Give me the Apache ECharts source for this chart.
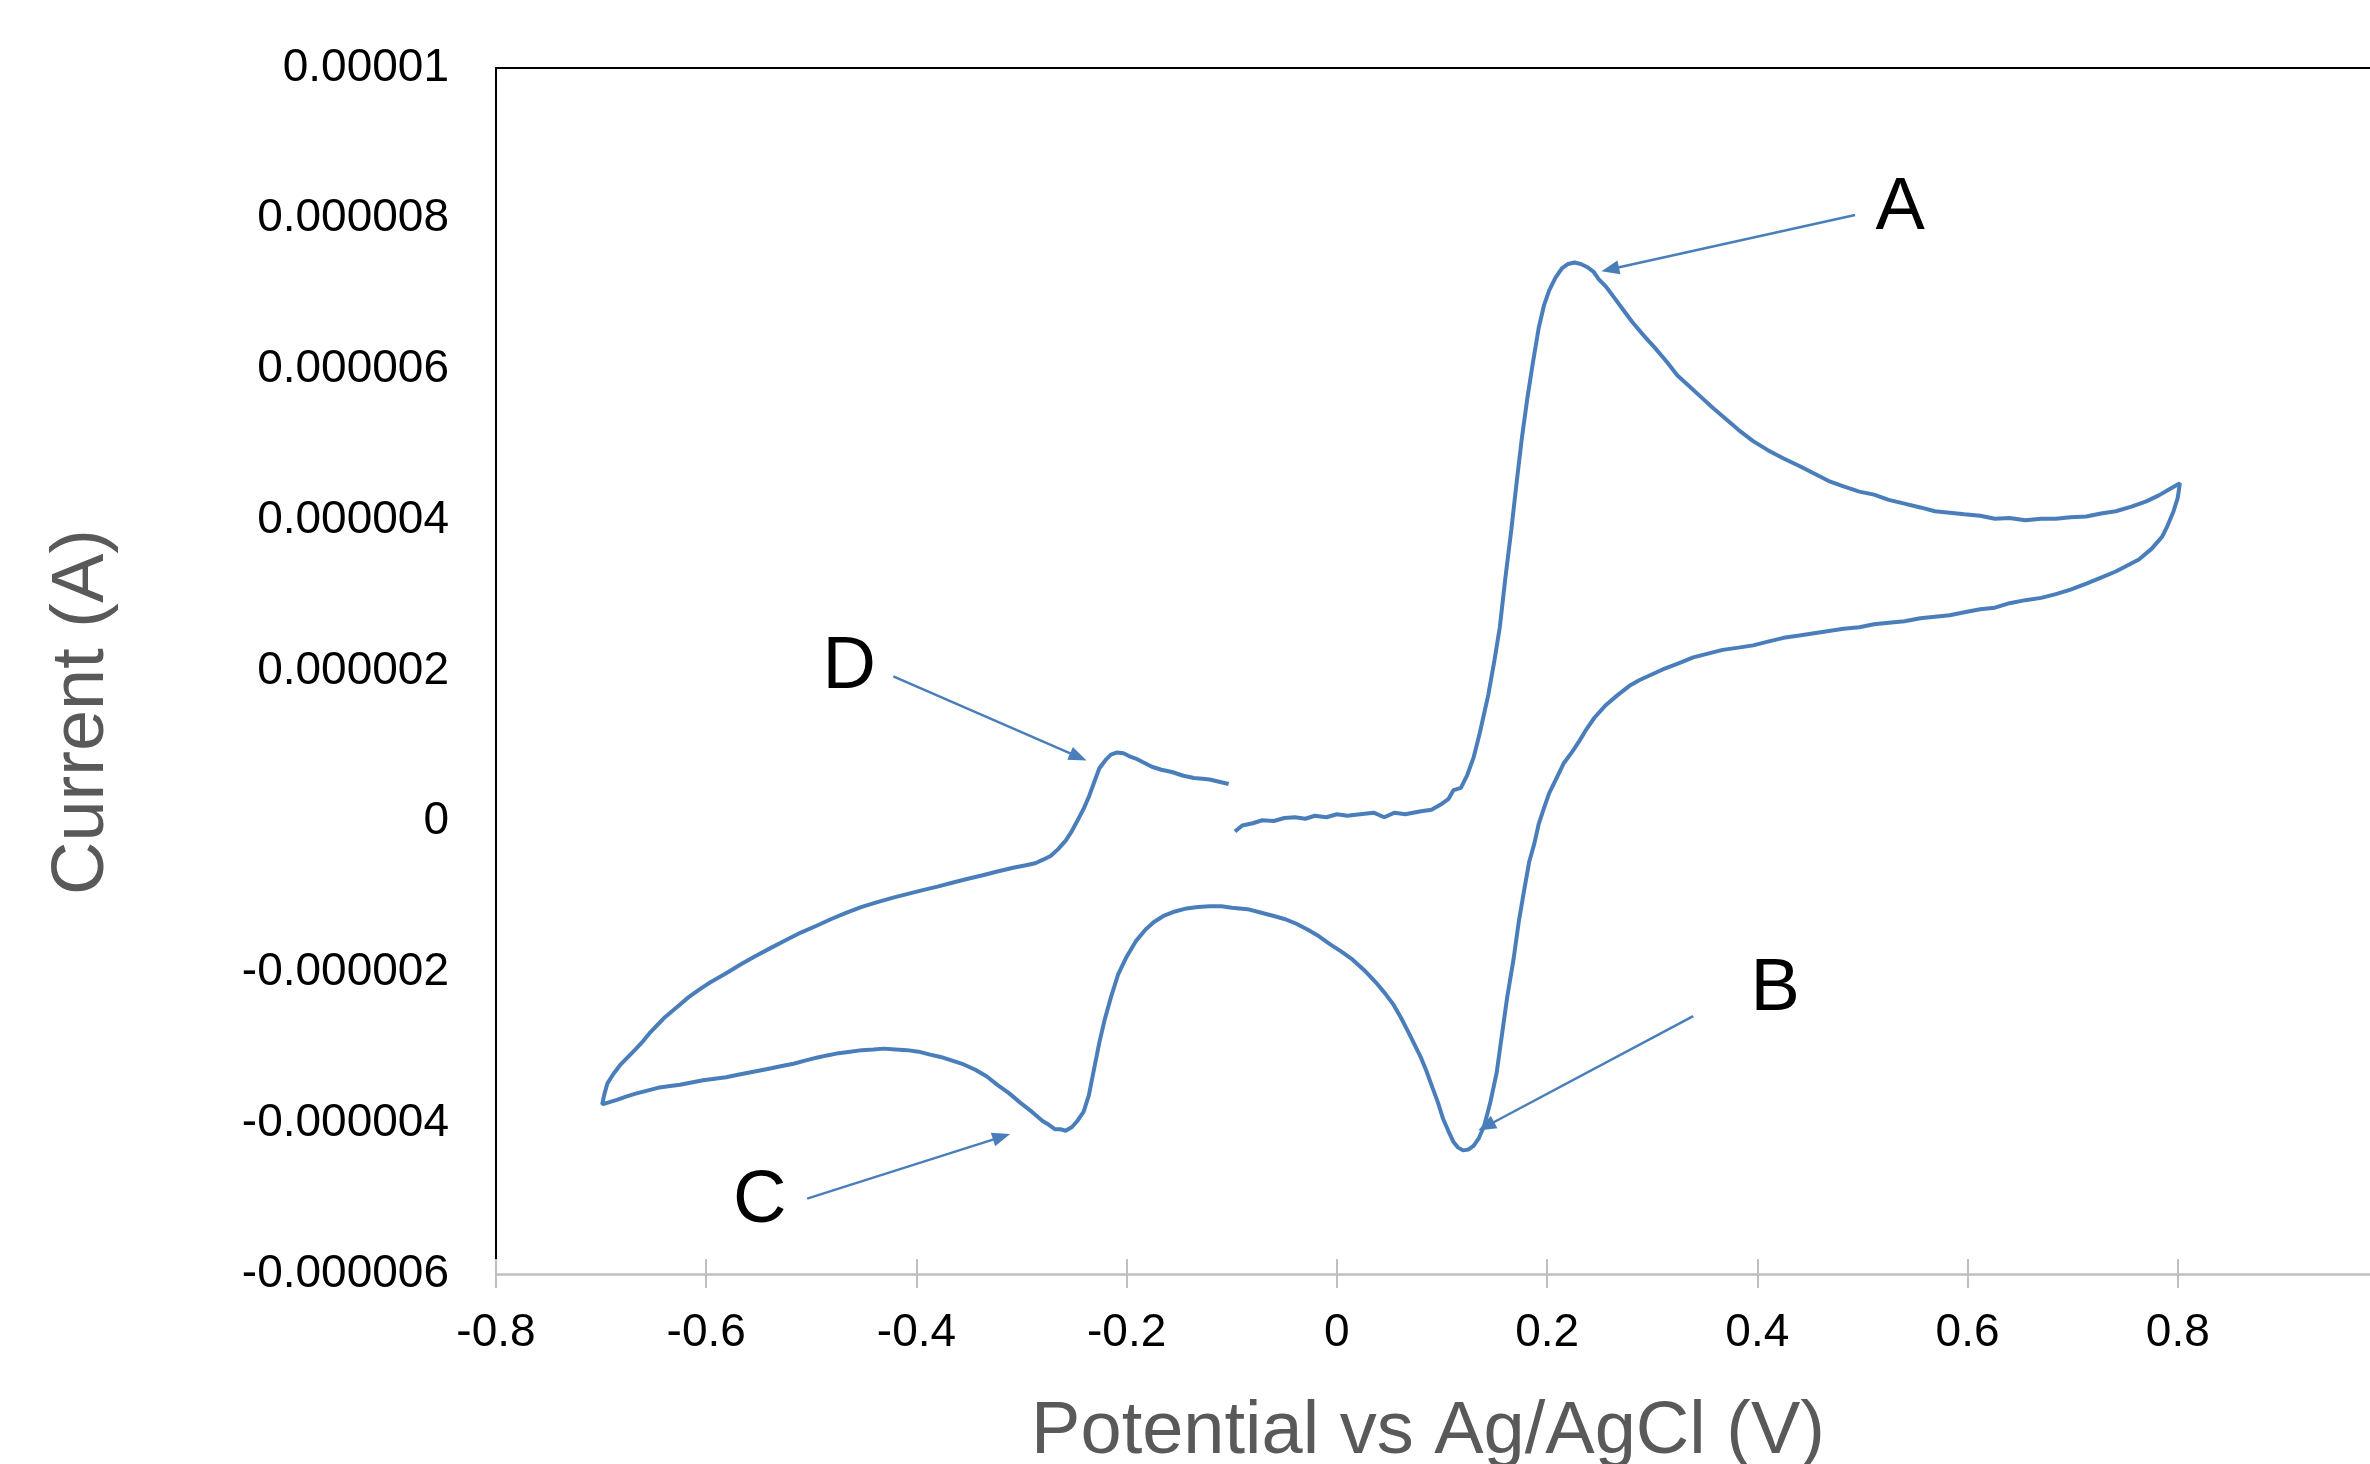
<!DOCTYPE html>
<html>
<head>
<meta charset="utf-8">
<script src="https://cdn.jsdelivr.net/npm/echarts@6/dist/echarts.min.js"></script>
<style>
  html, body { margin: 0; padding: 0; background: #fff; }
  #chart { width: 2370px; height: 1464px; }
</style>
</head>
<body>
<div id="chart"></div>
<script>
// CV trace in scan order. potential in V, current in µA
// first sweep: -0.1 V -> +0.8 V
const fwdE = [-0.097, -0.090, -0.080, -0.071, -0.060, -0.050, -0.040, -0.030, -0.021, -0.010, 0.000, 0.010, 0.022, 0.035, 0.045, 0.055, 0.065, 0.080, 0.090, 0.100, 0.106, 0.111, 0.118, 0.124, 0.130, 0.136, 0.144, 0.150, 0.155, 0.160, 0.166, 0.171, 0.176, 0.181, 0.186, 0.192, 0.197, 0.202, 0.208, 0.214, 0.220, 0.226, 0.232, 0.238, 0.244, 0.249, 0.256, 0.264, 0.272, 0.281, 0.292, 0.303, 0.314, 0.324, 0.335, 0.346, 0.357, 0.367, 0.382, 0.396, 0.410, 0.425, 0.440, 0.454, 0.468, 0.482, 0.497, 0.511, 0.525, 0.540, 0.555, 0.569, 0.583, 0.597, 0.612, 0.626, 0.640, 0.655, 0.670, 0.684, 0.698, 0.713, 0.727, 0.741, 0.756, 0.770, 0.782, 0.792, 0.802];
const fwdI = [-0.13, -0.05, -0.02, 0.02, 0.01, 0.05, 0.06, 0.04, 0.08, 0.06, 0.10, 0.08, 0.10, 0.12, 0.06, 0.12, 0.10, 0.14, 0.16, 0.24, 0.30, 0.42, 0.45, 0.62, 0.85, 1.18, 1.68, 2.15, 2.58, 3.20, 3.88, 4.50, 5.09, 5.60, 6.05, 6.55, 6.85, 7.05, 7.22, 7.34, 7.40, 7.42, 7.40, 7.36, 7.30, 7.20, 7.10, 6.95, 6.80, 6.63, 6.45, 6.28, 6.10, 5.92, 5.78, 5.64, 5.50, 5.38, 5.20, 5.05, 4.93, 4.82, 4.72, 4.62, 4.52, 4.45, 4.38, 4.34, 4.27, 4.22, 4.17, 4.12, 4.10, 4.08, 4.06, 4.02, 4.03, 4.00, 4.02, 4.02, 4.04, 4.05, 4.09, 4.12, 4.18, 4.25, 4.33, 4.41, 4.49];

// reverse sweep: +0.8 V -> -0.7 V
const revE = [0.800, 0.796, 0.790, 0.785, 0.775, 0.763, 0.752, 0.741, 0.727, 0.713, 0.698, 0.684, 0.670, 0.655, 0.640, 0.626, 0.612, 0.597, 0.583, 0.569, 0.555, 0.540, 0.525, 0.511, 0.497, 0.482, 0.468, 0.454, 0.440, 0.425, 0.410, 0.396, 0.382, 0.367, 0.353, 0.339, 0.325, 0.310, 0.299, 0.288, 0.278, 0.267, 0.256, 0.245, 0.238, 0.231, 0.224, 0.216, 0.209, 0.202, 0.197, 0.192, 0.188, 0.183, 0.178, 0.173, 0.168, 0.162, 0.157, 0.152, 0.146, 0.140, 0.135, 0.130, 0.125, 0.120, 0.115, 0.111, 0.106, 0.101, 0.096, 0.091, 0.085, 0.080, 0.074, 0.068, 0.061, 0.054, 0.046, 0.037, 0.026, 0.015, 0.004, -0.006, -0.017, -0.028, -0.039, -0.050, -0.060, -0.071, -0.085, -0.100, -0.110, -0.121, -0.132, -0.143, -0.154, -0.165, -0.174, -0.182, -0.191, -0.200, -0.208, -0.215, -0.221, -0.226, -0.231, -0.236, -0.241, -0.247, -0.252, -0.258, -0.263, -0.268, -0.274, -0.280, -0.290, -0.301, -0.312, -0.323, -0.333, -0.344, -0.355, -0.366, -0.377, -0.387, -0.398, -0.409, -0.420, -0.431, -0.441, -0.452, -0.463, -0.474, -0.485, -0.495, -0.506, -0.517, -0.528, -0.538, -0.549, -0.560, -0.571, -0.581, -0.592, -0.603, -0.614, -0.625, -0.636, -0.646, -0.657, -0.668, -0.677, -0.685, -0.692, -0.699];
const revI = [4.30, 4.12, 3.92, 3.78, 3.62, 3.48, 3.40, 3.32, 3.24, 3.16, 3.08, 3.02, 2.97, 2.94, 2.90, 2.84, 2.82, 2.78, 2.74, 2.72, 2.70, 2.66, 2.64, 2.62, 2.58, 2.56, 2.53, 2.50, 2.47, 2.44, 2.39, 2.34, 2.31, 2.28, 2.23, 2.18, 2.10, 2.02, 1.95, 1.88, 1.80, 1.68, 1.55, 1.38, 1.24, 1.08, 0.93, 0.78, 0.58, 0.38, 0.18, -0.03, -0.28, -0.53, -0.92, -1.33, -1.83, -2.33, -2.83, -3.33, -3.72, -4.04, -4.20, -4.30, -4.35, -4.36, -4.32, -4.25, -4.10, -3.94, -3.72, -3.53, -3.30, -3.13, -2.96, -2.79, -2.60, -2.43, -2.28, -2.13, -1.97, -1.83, -1.72, -1.63, -1.52, -1.43, -1.35, -1.29, -1.25, -1.21, -1.16, -1.14, -1.12, -1.12, -1.13, -1.15, -1.19, -1.25, -1.33, -1.43, -1.58, -1.79, -2.02, -2.33, -2.63, -2.93, -3.28, -3.63, -3.85, -3.97, -4.05, -4.10, -4.08, -4.08, -4.02, -3.97, -3.85, -3.73, -3.60, -3.49, -3.38, -3.29, -3.22, -3.17, -3.12, -3.09, -3.05, -3.03, -3.02, -3.01, -3.02, -3.03, -3.05, -3.07, -3.10, -3.13, -3.17, -3.21, -3.24, -3.27, -3.30, -3.33, -3.36, -3.39, -3.41, -3.43, -3.46, -3.49, -3.51, -3.53, -3.57, -3.61, -3.65, -3.69, -3.72, -3.75];

// return sweep: -0.7 V -> -0.1 V
const retE = [-0.697, -0.694, -0.688, -0.682, -0.675, -0.668, -0.660, -0.653, -0.646, -0.639, -0.628, -0.617, -0.606, -0.596, -0.581, -0.567, -0.553, -0.538, -0.524, -0.510, -0.495, -0.481, -0.467, -0.452, -0.438, -0.423, -0.409, -0.395, -0.380, -0.366, -0.352, -0.337, -0.323, -0.308, -0.297, -0.287, -0.279, -0.272, -0.265, -0.258, -0.252, -0.247, -0.241, -0.236, -0.231, -0.226, -0.220, -0.215, -0.209, -0.203, -0.196, -0.190, -0.183, -0.176, -0.167, -0.157, -0.146, -0.136, -0.128, -0.121, -0.112, -0.103];
const retI = [-3.62, -3.47, -3.34, -3.23, -3.13, -3.03, -2.91, -2.79, -2.69, -2.59, -2.46, -2.33, -2.22, -2.13, -2.01, -1.89, -1.78, -1.67, -1.57, -1.47, -1.38, -1.29, -1.21, -1.13, -1.07, -1.01, -0.96, -0.91, -0.86, -0.81, -0.76, -0.71, -0.66, -0.61, -0.58, -0.55, -0.50, -0.45, -0.36, -0.25, -0.12, 0.01, 0.17, 0.33, 0.52, 0.71, 0.82, 0.89, 0.92, 0.91, 0.86, 0.83, 0.78, 0.73, 0.69, 0.66, 0.61, 0.58, 0.57, 0.56, 0.53, 0.50];

// peak annotations: letter position, arrow tail and arrow head (V, µA)
const peakNames = ['A', 'B', 'C', 'D'];
const nameE = [0.536, 0.417, -0.549, -0.464];
const nameI = [8.13, -2.23, -5.04, 2.04];
const tailE = [0.493, 0.339, -0.504, -0.422];
const tailI = [8.05, -2.58, -5.00, 1.93];
const headE = [0.260, 0.142, -0.319, -0.246];
const headI = [7.33, -4.04, -4.18, 0.86];

const FONT = '"Liberation Sans", Arial, sans-serif';
const BLUE = '#4a7ebb';

const traceE = fwdE.concat(revE, retE);
const traceI = fwdI.concat(revI, retI);
const trace = traceE.map((e, i) => [e, traceI[i]]);

const arrows = peakNames.map((n, i) => [
  { coord: [tailE[i], tailI[i]], symbol: 'none' },
  { coord: [headE[i], headI[i]], symbol: 'triangle', symbolSize: [14, 18] }
]);
const letters = peakNames.map((n, i) => ({ name: n, coord: [nameE[i], nameI[i]] }));

const chart = echarts.init(document.getElementById('chart'));
const xBase = { type: 'value', min: -0.8, max: 1.0, interval: 0.2, splitLine: { show: false } };

chart.setOption({
  animation: false,
  backgroundColor: '#fff',
  // plot area runs past the right edge of the picture (x max 1.0 is cut off)
  grid: { left: 496, top: 68, width: 1892, height: 1206, outerBoundsMode: 'none', containLabel: false },
  xAxis: [
    Object.assign({}, xBase, {
      position: 'bottom',
      axisLine: { show: true, onZero: false, lineStyle: { color: '#bfbfbf', width: 2.5 } },
      axisTick: { show: true, length: 14, lineStyle: { color: '#bfbfbf', width: 2 } },
      axisLabel: {
        margin: 36, fontSize: 46, lineHeight: 46, color: '#000', fontFamily: FONT,
        formatter: v => String(Math.round(v * 10) / 10)
      }
    }),
    Object.assign({}, xBase, {
      position: 'bottom',
      axisLine: { show: false, onZero: false },
      axisTick: { show: true, inside: true, length: 15, lineStyle: { color: '#bfbfbf', width: 2 } },
      axisLabel: { show: false }
    }),
    Object.assign({}, xBase, {
      position: 'top',
      axisLine: { show: true, onZero: false, lineStyle: { color: '#000', width: 2 } },
      axisTick: { show: false },
      axisLabel: { show: false }
    })
  ],
  yAxis: {
    type: 'value', min: -6, max: 10, interval: 2,
    axisLine: { show: true, onZero: false, lineStyle: { color: '#000', width: 2 } },
    axisTick: { show: false },
    splitLine: { show: false },
    axisLabel: {
      margin: 47, fontSize: 46, color: '#000', fontFamily: FONT,
      formatter: v => v === 0 ? '0' : (v * 1e-6).toFixed(6).replace(/0+$/, '')
    }
  },
  graphic: [
    {
      type: 'text', x: 1428, y: 1433,
      style: { text: 'Potential vs Ag/AgCl (V)', font: '74px ' + FONT, fill: '#595959', align: 'center', verticalAlign: 'middle' }
    },
    {
      type: 'text', x: 83, y: 712, rotation: Math.PI / 2,
      style: { text: 'Current (A)', font: '74px ' + FONT, fill: '#595959', align: 'center', verticalAlign: 'middle' }
    }
  ],
  series: [{
    type: 'line',
    data: trace,
    showSymbol: false,
    lineStyle: { color: BLUE, width: 4 },
    itemStyle: { color: BLUE },
    emphasis: { disabled: true },
    markLine: {
      silent: true,
      label: { show: false },
      lineStyle: { color: BLUE, width: 2.5, type: 'solid' },
      data: arrows
    },
    markPoint: {
      silent: true,
      symbol: 'circle',
      symbolSize: 1,
      itemStyle: { color: 'rgba(0,0,0,0)' },
      label: { show: true, position: 'inside', formatter: '{b}', fontSize: 74, color: '#000', fontFamily: FONT },
      data: letters
    }
  }]
});
</script>
</body>
</html>
